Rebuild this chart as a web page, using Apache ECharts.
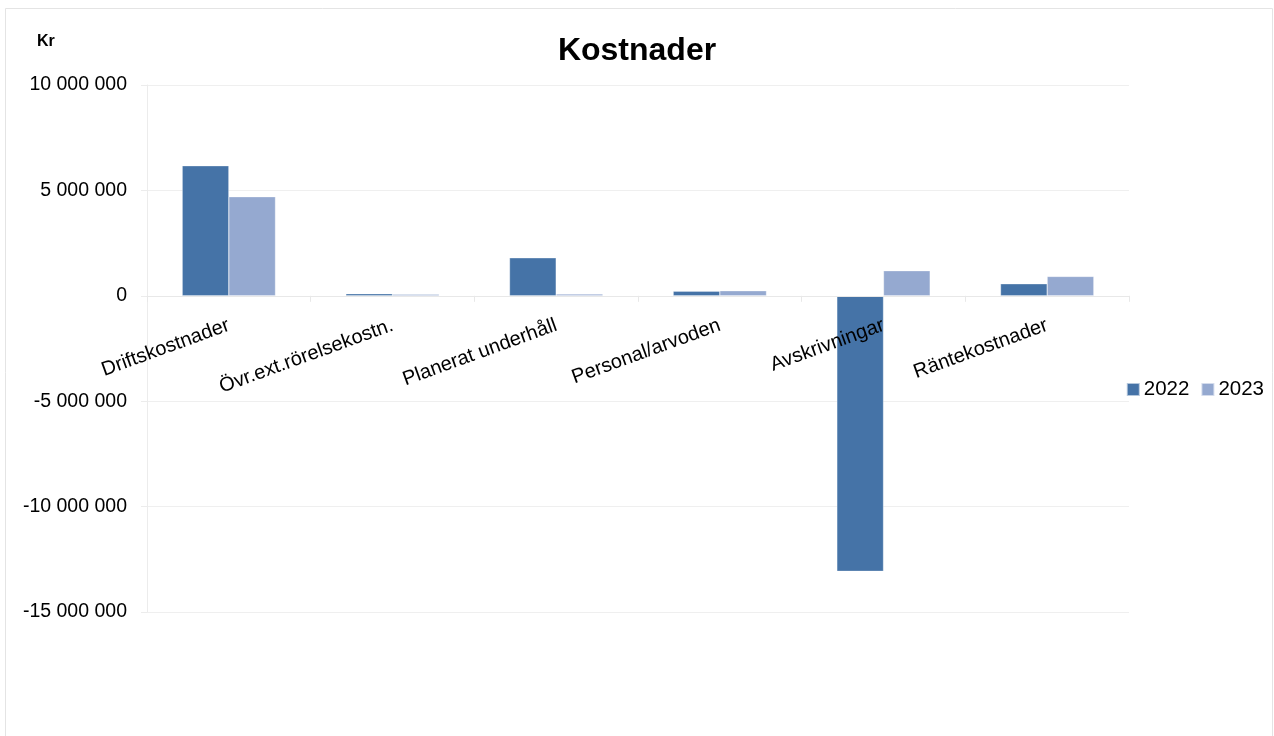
<!DOCTYPE html>
<html>
<head>
<meta charset="utf-8">
<script src="https://cdn.jsdelivr.net/npm/echarts@6/dist/echarts.min.js"></script>
<style>
html,body{margin:0;padding:0;background:#fff;}
#chart{width:1274px;height:736px;}
</style>
</head>
<body>
<div id="chart"></div>
<script>
const categories = ['Driftskostnader', 'Övr.ext.rörelsekostn.', 'Planerat underhåll', 'Personal/arvoden', 'Avskrivningar', 'Räntekostnader'];
const values2022 = [6170000, 100000, 1800000, 220000, -13070000, 570000];
const values2023 = [4700000, 70000, 80000, 240000, 1190000, 920000];
const seriesNames = ['2022', '2023'];
const yMin = -15000000, yMax = 10000000, yStep = 5000000;

const FONT = '"Liberation Sans", Arial, sans-serif';
function fmt(v) {
  const s = Math.abs(v).toString().replace(/\B(?=(\d{3})+(?!\d))/g, ' ');
  return (v < 0 ? '-' : '') + s;
}

const gridTop = 85, gridBottom = 124, H = 736;
const plotH = H - gridTop - gridBottom;
const zeroOffset = -plotH * (0 - yMin) / (yMax - yMin);

const chart = echarts.init(document.getElementById('chart'));
chart.setOption({
  backgroundColor: '#fff',
  animation: false,
  textStyle: { fontFamily: FONT },
  graphic: [
    { type: 'rect', shape: { x: 5.5, y: 8.5, width: 1267, height: 740 }, style: { fill: 'none', stroke: '#e4e4e4', lineWidth: 1 }, silent: true },
    { type: 'text', left: 37, top: 34, style: { text: 'Kr', font: 'bold 16px ' + FONT, fill: '#000' } }
  ],
  title: {
    text: 'Kostnader',
    left: 'center',
    top: 30,
    textStyle: { fontFamily: FONT, fontSize: 32, fontWeight: 'bold', color: '#000' }
  },
  legend: {
    data: seriesNames,
    right: 5,
    top: 374,
    orient: 'horizontal',
    itemWidth: 13,
    itemHeight: 13,
    itemGap: 11,
    icon: 'rect',
    textStyle: { fontFamily: FONT, fontSize: 20.5, color: '#000', padding: [0, 0, 0, -1] }
  },
  grid: { left: 147, right: 145, top: gridTop, bottom: gridBottom, containLabel: false },
  xAxis: {
    type: 'category',
    data: categories,
    position: 'bottom',
    offset: zeroOffset,
    z: 5,
    axisLine: { show: true, onZero: false, lineStyle: { color: '#e8e8e8', width: 1 } },
    axisTick: { show: true, length: 6, lineStyle: { color: '#e8e8e8' } },
    axisLabel: { rotate: 20, margin: 29, fontFamily: FONT, fontSize: 20, color: '#000', interval: 0 },
    splitLine: { show: false }
  },
  yAxis: {
    type: 'value',
    min: yMin, max: yMax, interval: yStep,
    axisLine: { show: true, lineStyle: { color: '#ececec' } },
    axisTick: { show: true, length: 6, lineStyle: { color: '#ececec' } },
    axisLabel: { formatter: fmt, margin: 20, fontFamily: FONT, fontSize: 19.5, color: '#000' },
    splitLine: { show: true, lineStyle: { color: '#efefef' } }
  },
  series: [
    { name: seriesNames[0], type: 'bar', data: values2022, barGap: '0%', barCategoryGap: '43%', z: 2,
      itemStyle: { color: '#4573a7', borderColor: 'rgba(255,255,255,0.6)', borderWidth: 0.5 } },
    { name: seriesNames[1], type: 'bar', data: values2023, barGap: '0%', barCategoryGap: '43%', z: 2,
      itemStyle: { color: '#95a9d0', borderColor: 'rgba(255,255,255,0.6)', borderWidth: 0.5 } }
  ]
});
</script>
</body>
</html>
